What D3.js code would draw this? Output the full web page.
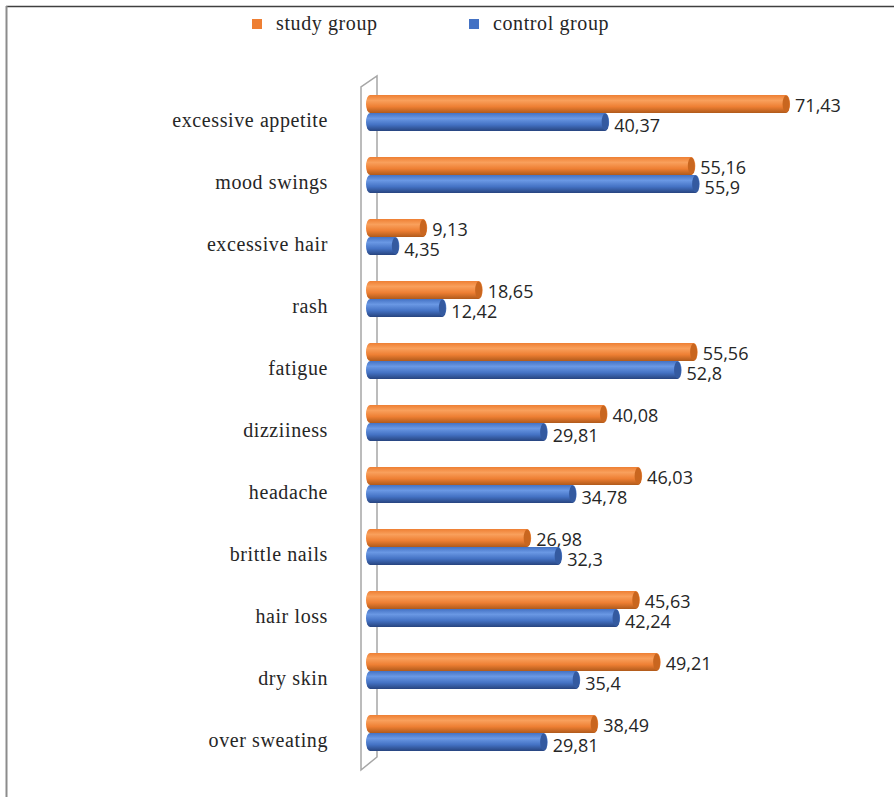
<!DOCTYPE html>
<html>
<head>
<meta charset="utf-8">
<script src="https://cdn.jsdelivr.net/npm/d3@7"></script>
<style>
  body { margin: 0; background: #fff; }
  .cat { font-family: "Liberation Serif", serif; font-size: 20px; letter-spacing: 0.6px; fill: #262626; }
  .val { font-family: "Open Sans", sans-serif; font-size: 18px; fill: #262626; }
  .leg { font-family: "Liberation Serif", serif; font-size: 20px; letter-spacing: 0.6px; fill: #262626; }
</style>
</head>
<body>
<svg id="chart"></svg>
<script>
var categories = ["excessive appetite", "mood swings", "excessive hair", "rash", "fatigue",
  "dizziiness", "headache", "brittle nails", "hair loss", "dry skin", "over sweating"];
var studyValues   = [71.43, 55.16, 9.13, 18.65, 55.56, 40.08, 46.03, 26.98, 45.63, 49.21, 38.49];
var controlValues = [40.37, 55.9, 4.35, 12.42, 52.8, 29.81, 34.78, 32.3, 42.24, 35.4, 29.81];
var seriesNames = ["study group", "control group"];

var W = 894, H = 797;
var svg = d3.select("#chart").attr("width", W).attr("height", H);

// frame (top + left only)
svg.append("line").attr("x1", 6).attr("y1", 6.5).attr("x2", W).attr("y2", 6.5)
  .attr("stroke", "#404040").attr("stroke-width", 1.5);
svg.append("line").attr("x1", 6.5).attr("y1", 6).attr("x2", 6.5).attr("y2", H)
  .attr("stroke", "#8c8c8c").attr("stroke-width", 2);

var rows = categories.map(function(c, i) {
  return { cat: c, study: studyValues[i], control: controlValues[i] };
});

var x = d3.scaleLinear().domain([0, 80]).range([370, 836]);
var y = d3.scaleBand().domain(categories).range([82, 764]);
var y1 = d3.scaleBand().domain(["study", "control"]).range([0, 36]);

var colors = {
  study:   { light: "#f9a05c", mid: "#ee7f33", dark: "#b05a1b", cap: "#c9661f" },
  control: { light: "#6a98e4", mid: "#4472c4", dark: "#27447f", cap: "#345aa0" }
};

var defs = svg.append("defs");
["study", "control"].forEach(function(k) {
  var g = defs.append("linearGradient").attr("id", "grad-" + k)
    .attr("x1", 0).attr("y1", 0).attr("x2", 0).attr("y2", 1);
  g.append("stop").attr("offset", "0%").attr("stop-color", colors[k].mid);
  g.append("stop").attr("offset", "30%").attr("stop-color", colors[k].light);
  g.append("stop").attr("offset", "65%").attr("stop-color", colors[k].mid);
  g.append("stop").attr("offset", "100%").attr("stop-color", colors[k].dark);
});

// 3D wall
svg.append("path")
  .attr("d", "M361,770 L361,87 L377,76 L377,757 Z")
  .attr("fill", "none").attr("stroke", "#a6a6a6").attr("stroke-width", 1.5);

var groups = svg.selectAll(".grp").data(rows).enter().append("g")
  .attr("class", "grp")
  .attr("transform", function(d) { return "translate(0," + (y(d.cat) + (y.bandwidth() - 36) / 2) + ")"; });

groups.append("text").attr("class", "cat")
  .attr("x", 328).attr("y", 32).attr("text-anchor", "end")
  .text(function(d) { return d.cat; });

["study", "control"].forEach(function(k) {
  var h = y1.bandwidth();
  var rx = 4;
  var bar = groups.append("g").attr("transform", "translate(0," + y1(k) + ")");
  bar.append("path")
    .attr("d", function(d) {
      var x0 = x(0), x1 = x(d[k]);
      return "M" + x0 + ",0 L" + x1 + ",0 A" + rx + "," + (h / 2) + " 0 0 1 " + x1 + "," + h +
        " L" + x0 + "," + h + " A" + rx + "," + (h / 2) + " 0 0 1 " + x0 + ",0 Z";
    })
    .attr("fill", "url(#grad-" + k + ")");
  bar.append("ellipse")
    .attr("cx", function(d) { return x(d[k]); })
    .attr("cy", h / 2).attr("rx", rx - 0.5).attr("ry", h / 2 - 0.5)
    .attr("fill", colors[k].cap);
  bar.append("text").attr("class", "val")
    .attr("x", function(d) { return x(d[k]) + 9; })
    .attr("y", k === "study" ? h / 2 + 8 : h / 2 + 10)
    .text(function(d) { return String(d[k]).replace(".", ","); });
});

// legend
var legend = svg.append("g");
var legX = [252, 469];
seriesNames.forEach(function(name, i) {
  var k = i === 0 ? "study" : "control";
  legend.append("rect").attr("x", legX[i]).attr("y", 19).attr("width", 10).attr("height", 10)
    .attr("fill", colors[k].mid);
  legend.append("text").attr("class", "leg").attr("x", legX[i] + 24).attr("y", 30).text(name);
});
</script>
</body>
</html>
